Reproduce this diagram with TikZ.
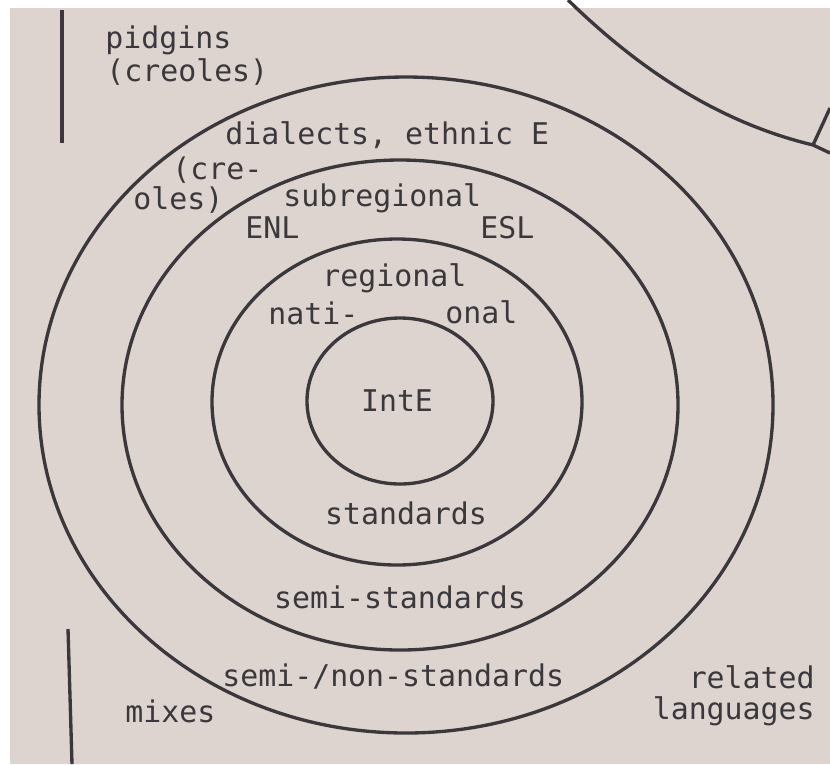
\documentclass[tikz,border=0pt]{standalone}
\usepackage{fontspec}
\setmonofont{DejaVu Sans Mono}
\usetikzlibrary{positioning}
\definecolor{paper}{RGB}{221,212,208}
\definecolor{ink}{RGB}{58,56,60}

\begin{document}
\begin{tikzpicture}[x=0.2mm,y=-0.2mm,
  ring/.style={draw=ink,line width=1.9pt},
  lbl/.style={inner sep=0pt,text=ink,font=\ttfamily\fontsize{17}{20}\selectfont}]
  \useasboundingbox (0,0) rectangle (830,764);
  \fill[white] (0,0) rectangle (830,764);
  \fill[paper] (10,8) rectangle (830,764);

  % the four circles
  \draw[ring] (406,405) ellipse [x radius=367,y radius=328];
  \draw[ring] (400,405) ellipse [x radius=278,y radius=245];
  \draw[ring] (397,402) ellipse [x radius=185,y radius=163];
  \draw[ring] (400,401) ellipse [x radius=93,y radius=83];

  % outside marks
  \draw[ring] (62,10) -- (62,143);
  \draw[ring] (68,629) -- (72,764);
  \coordinate (joint) at (813,145);
  \draw[ring] (568,0) .. controls (650,80) and (730,125) .. (joint) -- (830,153);
  \draw[ring] (joint) -- (830,108);

  % labels
  \node[lbl,anchor=west] (pidgins) at (105,40) {pidgins};
  \node[lbl,anchor=west] (creoles) at (106,72) {(creoles)};
  \node[lbl,anchor=west] (dialects) at (225,135) {dialects, ethnic E};
  \node[lbl,anchor=west] (cre) at (172,170) {(cre-};
  \node[lbl,anchor=west] (oles) at (133,200) {oles)};
  \node[lbl,anchor=west] (subreg) at (283,198) {subregional};
  \node[lbl,anchor=west] (enl) at (245,228) {ENL};
  \node[lbl,anchor=west] (esl) at (480,228) {ESL};
  \node[lbl,anchor=west] (regional) at (322,278) {regional};
  \node[lbl,anchor=west] (nati) at (268,313) {nati-};
  \node[lbl,anchor=west] (onal) at (445,312) {onal};
  \node[lbl] (inte) at (397,401) {IntE};
  \node[lbl] (std) at (406,513) {standards};
  \node[lbl] (semistd) at (400,597) {semi-standards};
  \node[lbl,anchor=west] (nonstd) at (222,677) {semi-/non-standards};
  \node[lbl,anchor=west] (mixes) at (125,711) {mixes};
  \node[lbl,anchor=east] (related) at (815,677) {related};
  \node[lbl,anchor=east] (languages) at (815,711) {languages};
\end{tikzpicture}
\end{document}
